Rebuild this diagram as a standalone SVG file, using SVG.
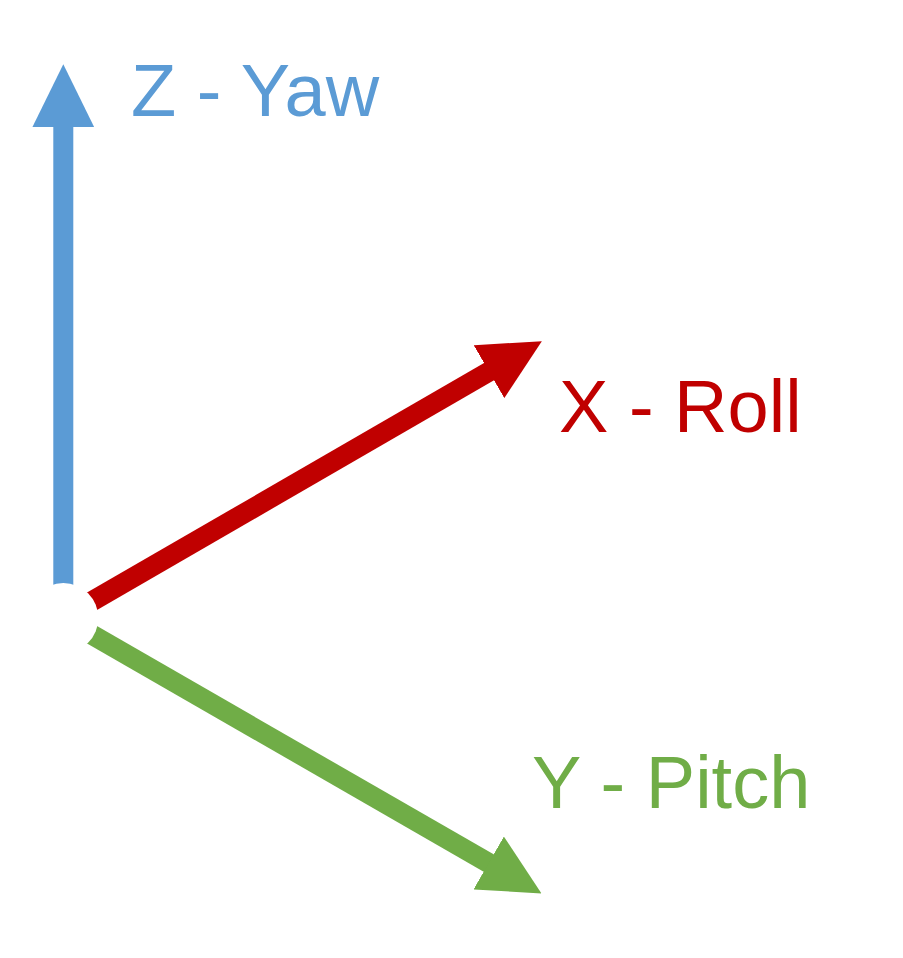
<svg xmlns="http://www.w3.org/2000/svg" width="903" height="958" viewBox="0 0 903 958">
<style>
.lbl{font-family:"Liberation Sans",Arial,sans-serif;font-size:74px}
.shaft{stroke-width:20;fill:none;stroke-linecap:butt}
</style>
<defs>
<marker id="hb" markerUnits="userSpaceOnUse" markerWidth="63" markerHeight="62" viewBox="0 0 63 62" refX="1" refY="31" orient="auto"><path d="M0,0 L63,31 L0,62 z" fill="#5B9BD5"/></marker>
<marker id="hr" markerUnits="userSpaceOnUse" markerWidth="61" markerHeight="61" viewBox="0 0 61 61" refX="1" refY="30.5" orient="auto"><path d="M0,0 L61,30.5 L0,61 z" fill="#C00000"/></marker>
<marker id="hg" markerUnits="userSpaceOnUse" markerWidth="61" markerHeight="61" viewBox="0 0 61 61" refX="1" refY="30.5" orient="auto"><path d="M0,0 L61,30.5 L0,61 z" fill="#70AD47"/></marker>
</defs>
<rect width="903" height="958" fill="#FFFFFF"/>
<g id="connectors">
<line id="z-axis" class="shaft" x1="63.3" y1="600" x2="63.3" y2="126.3" stroke="#5B9BD5" marker-end="url(#hb)"/>
<line id="x-axis" class="shaft" x1="89" y1="603" x2="489.9" y2="371.2" stroke="#C00000" marker-end="url(#hr)"/>
<line id="y-axis" class="shaft" x1="89" y1="633" x2="489.5" y2="863.5" stroke="#70AD47" marker-end="url(#hg)"/>
<circle id="origin-gap" cx="63.3" cy="618" r="35" fill="#FFFFFF"/>
</g>
<g id="label-z"><text class="lbl" x="131" y="115.7" fill="#5B9BD5">Z - Yaw</text></g>
<g id="label-x"><text class="lbl" x="559" y="432.3" fill="#C00000">X - Roll</text></g>
<g id="label-y"><text class="lbl" x="532" y="808.3" fill="#70AD47">Y - Pitch</text></g>
</svg>
